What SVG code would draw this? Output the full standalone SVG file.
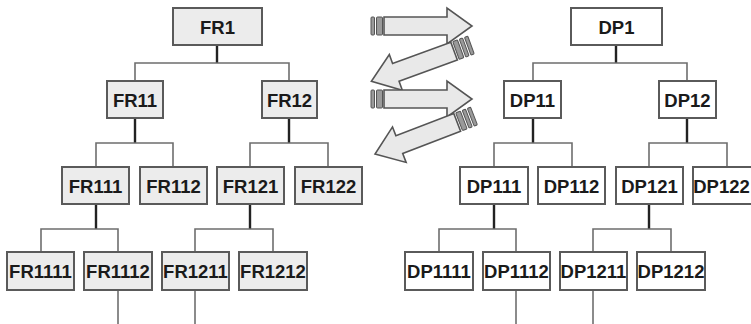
<svg xmlns="http://www.w3.org/2000/svg" width="751" height="324" viewBox="0 0 751 324">
<defs>
<style>
.fr rect{fill:#ececec;stroke:#5a5a5a;stroke-width:2}
.dp rect{fill:#ffffff;stroke:#5a5a5a;stroke-width:2}
text{font-family:"Liberation Sans",Arial,sans-serif;font-weight:bold;font-size:18.5px;fill:#1a1a1a;text-anchor:middle}
.ln{stroke:#6e6e6e;stroke-width:1.6;fill:none}
.stub{stroke:#222;stroke-width:2.4;fill:none}
.arr{fill:#e9e9e9;stroke:#555;stroke-width:1.6;stroke-linejoin:miter}
.stripe{fill:#9a9a9a;stroke:#555;stroke-width:1}
</style>
<g id="harrow">
<rect class="stripe" x="0" y="-9" width="3.5" height="18" rx="1"/>
<rect class="stripe" x="5.5" y="-9" width="6" height="18" rx="1"/>
<polygon class="arr" points="13,-9 76,-9 76,-18 101,0 76,18 76,9 13,9"/>
</g>
<g id="darrow">
<rect class="stripe" x="0" y="-9.5" width="3.5" height="19" rx="1"/>
<rect class="stripe" x="5.5" y="-9.5" width="3.5" height="19" rx="1"/>
<rect class="stripe" x="11" y="-9.5" width="5" height="19" rx="1"/>
<polygon class="arr" points="18,-9.5 80,-9.5 80,-19 106,0 80,19 80,9.5 18,9.5"/>
</g>
</defs>
<rect width="751" height="324" fill="#fff"/>

<g id="connectors">
<line class="stub" x1="217" y1="45" x2="217" y2="63"/>
<polyline class="ln" points="135,81 135,63 289,63 289,81"/>
<line class="stub" x1="135" y1="118" x2="135" y2="143"/>
<polyline class="ln" points="96,167 96,143 173,143 173,167"/>
<line class="stub" x1="289" y1="118" x2="289" y2="143"/>
<polyline class="ln" points="250,167 250,143 328,143 328,167"/>
<line class="stub" x1="96" y1="204" x2="96" y2="229"/>
<polyline class="ln" points="41,252 41,229 118,229 118,252"/>
<line class="stub" x1="250" y1="204" x2="250" y2="229"/>
<polyline class="ln" points="195,252 195,229 273,229 273,252"/>
<line class="ln" x1="118" y1="290" x2="118" y2="324"/>
<line class="ln" x1="195" y1="290" x2="195" y2="324"/>
<line class="stub" x1="616" y1="45" x2="616" y2="63"/>
<polyline class="ln" points="533,81 533,63 687,63 687,81"/>
<line class="stub" x1="533" y1="118" x2="533" y2="143"/>
<polyline class="ln" points="494,167 494,143 572,143 572,167"/>
<line class="stub" x1="687" y1="118" x2="687" y2="143"/>
<polyline class="ln" points="649,167 649,143 727,143 727,167"/>
<line class="stub" x1="494" y1="204" x2="494" y2="229"/>
<polyline class="ln" points="439,252 439,229 516,229 516,252"/>
<line class="stub" x1="649" y1="204" x2="649" y2="229"/>
<polyline class="ln" points="593,252 593,229 671,229 671,252"/>
<line class="ln" x1="516" y1="290" x2="516" y2="324"/>
<line class="ln" x1="593" y1="290" x2="593" y2="324"/>
</g>

<g id="arrows">
<use href="#harrow" transform="translate(371,26)"/>
<use href="#darrow" transform="translate(471,45) rotate(160)"/>
<use href="#harrow" transform="translate(371,99)"/>
<use href="#darrow" transform="translate(474,116) rotate(159)"/>
</g>

<g id="FR1" class="fr"><rect x="173" y="8" width="89" height="37"/><text x="217.5" y="33.5">FR1</text></g>
<g id="FR11" class="fr"><rect x="107" y="81" width="56" height="37"/><text x="135" y="106.5">FR11</text></g>
<g id="FR12" class="fr"><rect x="262" y="81" width="55" height="37"/><text x="289.5" y="106.5">FR12</text></g>
<g id="FR111" class="fr"><rect x="62" y="167" width="67" height="37"/><text x="95.5" y="192.5">FR111</text></g>
<g id="FR112" class="fr"><rect x="140" y="167" width="67" height="37"/><text x="173.5" y="192.5">FR112</text></g>
<g id="FR121" class="fr"><rect x="217" y="167" width="67" height="37"/><text x="250.5" y="192.5">FR121</text></g>
<g id="FR122" class="fr"><rect x="295" y="167" width="67" height="37"/><text x="328.5" y="192.5">FR122</text></g>
<g id="FR1111" class="fr"><rect x="7" y="252" width="67" height="38"/><text x="40.5" y="278">FR1111</text></g>
<g id="FR1112" class="fr"><rect x="84" y="252" width="68" height="38"/><text x="118" y="278">FR1112</text></g>
<g id="FR1211" class="fr"><rect x="162" y="252" width="67" height="38"/><text x="195.5" y="278">FR1211</text></g>
<g id="FR1212" class="fr"><rect x="239" y="252" width="68" height="38"/><text x="273" y="278">FR1212</text></g>

<g id="DP1" class="dp"><rect x="571" y="8" width="91" height="37"/><text x="616.5" y="33.5">DP1</text></g>
<g id="DP11" class="dp"><rect x="504" y="81" width="57" height="37"/><text x="532.5" y="106.5">DP11</text></g>
<g id="DP12" class="dp"><rect x="659" y="81" width="57" height="37"/><text x="687.5" y="106.5">DP12</text></g>
<g id="DP111" class="dp"><rect x="460" y="167" width="68" height="37"/><text x="494" y="192.5">DP111</text></g>
<g id="DP112" class="dp"><rect x="538" y="167" width="67" height="37"/><text x="571.5" y="192.5">DP112</text></g>
<g id="DP121" class="dp"><rect x="616" y="167" width="67" height="37"/><text x="649.5" y="192.5">DP121</text></g>
<g id="DP122" class="dp"><rect x="693" y="167" width="67" height="37"/><text x="721.5" y="192.5">DP122</text></g>
<g id="DP1111" class="dp"><rect x="405" y="252" width="68" height="38"/><text x="439" y="278">DP1111</text></g>
<g id="DP1112" class="dp"><rect x="483" y="252" width="67" height="38"/><text x="516.5" y="278">DP1112</text></g>
<g id="DP1211" class="dp"><rect x="560" y="252" width="67" height="38"/><text x="593.5" y="278">DP1211</text></g>
<g id="DP1212" class="dp"><rect x="637" y="252" width="68" height="38"/><text x="671" y="278">DP1212</text></g>
</svg>
